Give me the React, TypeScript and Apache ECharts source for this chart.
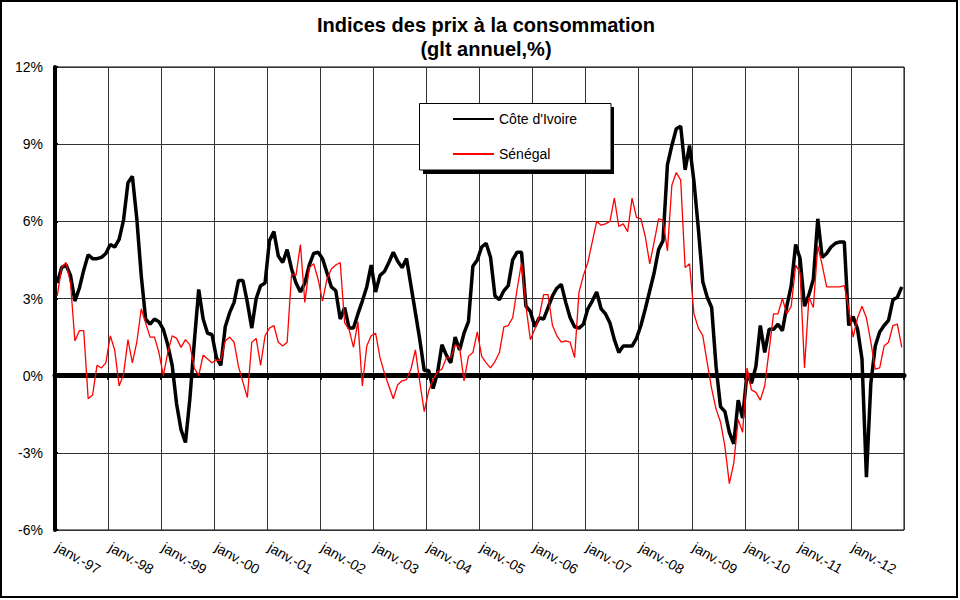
import React, { useEffect, useRef } from "react";
import * as echarts from "echarts";

const years = ["97", "98", "99", "00", "01", "02", "03", "04", "05", "06", "07", "08", "09", "10", "11", "12"];
const months = ["janv.", "févr.", "mars", "avr.", "mai", "juin", "juil.", "août", "sept.", "oct.", "nov.", "déc."];

const coteDIvoire = [
  3.6, 4.2, 4.3, 3.9, 2.9, 3.4, 4.1, 4.7, 4.55, 4.55, 4.6, 4.75,
  5.1, 5.0, 5.3, 6.05, 7.5, 7.75, 6.1, 3.9, 2.2, 2.0, 2.2, 2.1,
  1.8, 1.2, 0.4, -1.1, -2.1, -2.6, -0.9, 1.3, 3.35, 2.2, 1.65, 1.6,
  0.7, 0.4, 1.9, 2.45, 2.85, 3.7, 3.7, 2.85, 1.85, 3.0, 3.5, 3.6,
  5.25, 5.6, 4.65, 4.4, 4.9, 4.15, 3.6, 3.25, 3.6, 4.3, 4.75, 4.8,
  4.55, 4.0, 3.45, 3.3, 2.2, 2.65, 1.85, 1.85, 2.4, 2.9, 3.45, 4.3,
  3.25, 3.9, 4.05, 4.4, 4.8, 4.45, 4.2, 4.55, 3.5, 2.45, 1.4, 0.2,
  0.2, -0.5, 0.1, 1.2, 0.8, 0.5, 1.5, 1.0, 1.65, 2.1, 4.25, 4.5,
  5.0, 5.15, 4.6, 3.1, 2.95, 3.3, 3.5, 4.5, 4.8, 4.8, 2.7, 2.5,
  1.9, 2.25, 2.2, 2.65, 3.1, 3.4, 3.55, 2.85, 2.25, 1.9, 1.85, 2.0,
  2.6, 2.9, 3.25, 2.6, 2.4, 2.05, 1.4, 0.9, 1.15, 1.15, 1.15, 1.45,
  1.95, 2.6, 3.3, 4.0, 4.9, 5.25, 8.2, 8.95, 9.6, 9.7, 8.0, 8.95,
  7.55, 5.7, 3.65, 3.05, 2.65, 0.35, -1.2, -1.4, -2.2, -2.65, -0.95, -1.65,
  0.1, -0.3, 0.35, 1.95, 0.9, 1.8, 1.8, 2.0, 1.75, 2.7, 3.5, 5.1,
  4.55, 2.7, 3.15, 3.75, 6.1, 4.6, 4.75, 5.0, 5.15, 5.2, 5.2, 1.95,
  2.3, 1.8, 0.65, -3.95, -0.3, 1.15, 1.7, 1.95, 2.15, 2.95, 3.05, 3.45,
];

const senegal = [
  3.1, 4.2, 4.4, 3.6, 1.35, 1.75, 1.75, -0.9, -0.75, 0.4, 0.3, 0.5,
  1.55, 1.0, -0.4, 0.05, 1.4, 0.5, 1.3, 2.6, 2.05, 1.5, 1.5, 0.9,
  0.0, 0.9, 1.55, 1.45, 1.1, 1.4, 1.2, 0.3, 0.0, 0.8, 0.65, 0.5,
  0.6, 0.6, 1.35, 1.5, 1.3, 0.35, -0.25, -0.85, 1.3, 1.45, 0.4, 1.55,
  1.85, 1.95, 1.3, 1.15, 1.3, 3.95, 3.9, 5.1, 2.85, 4.2, 4.35, 3.75,
  2.9, 3.75, 4.15, 4.3, 4.4, 2.05, 1.8, 1.1, 2.1, -0.4, 1.15, 1.55,
  1.65, 0.7, 0.1, -0.4, -0.9, -0.35, -0.2, -0.15, 0.25, 1.0, -0.25, -1.4,
  -0.6, -0.15, 0.15, 0.25, 0.7, 0.7, 1.2, 1.1, -0.2, 0.75, 0.9, 1.7,
  0.75, 0.5, 0.3, 0.55, 0.9, 1.9, 1.95, 2.25, 3.35, 4.4, 2.7, 1.4,
  1.8, 2.3, 3.15, 3.15, 1.95, 1.55, 1.3, 1.35, 1.3, 0.7, 3.25, 3.9,
  4.4, 5.2, 6.0, 5.85, 5.9, 6.0, 6.9, 5.8, 5.9, 5.6, 6.9, 6.15,
  6.1, 5.4, 4.35, 5.2, 6.1, 6.05, 4.85, 7.4, 7.9, 7.6, 4.2, 4.35,
  2.4, 1.85, 1.55, 0.5, -0.5, -1.3, -1.8, -2.75, -4.2, -3.4, -1.7, -2.2,
  0.3, -0.55, -0.65, -0.95, -0.4, 1.0, 2.4, 2.4, 3.0, 2.4, 2.7, 4.3,
  4.0, 0.3, 3.05, 2.65, 5.05, 4.3, 3.45, 3.45, 3.45, 3.45, 3.5, 2.6,
  1.5, 2.25, 2.7, 2.25, 1.3, 0.25, 0.3, 1.15, 1.3, 1.95, 2.0, 1.1,
];

const seriesNames = ["Côte d'Ivoire", "Sénégal"];
const titleLines = ["Indices des prix à la consommation", "(glt annuel,%)"];
const yMin = -6;
const yMax = 12;
const yStep = 3;

const categories = years.flatMap((y) => months.map((m) => `${m}-${y}`));

const FONT = "'Liberation Sans', Arial, sans-serif";

export default function App() {
  const ref = useRef<HTMLDivElement>(null);

  useEffect(() => {
    if (!ref.current) return;
    const chart = echarts.init(ref.current, null, { renderer: "svg" });
    chart.setOption({
      animation: false,
      backgroundColor: "#fff",
      textStyle: { fontFamily: FONT },
      grid: {
        left: 55,
        right: 56,
        top: 67,
        bottom: 70,
        show: true,
        borderColor: "#000",
        borderWidth: 1,
        backgroundColor: "transparent",
      },
      legend: {
        data: seriesNames,
        orient: "vertical",
        left: 452,
        top: 112,
        padding: 0,
        itemWidth: 41,
        itemHeight: 14,
        itemGap: 21,
        z: 6,
        itemStyle: { opacity: 0 },
        textStyle: { fontSize: 14, color: "#000", fontFamily: FONT },
      },
      graphic: [
        {
          type: "rect",
          z: 4,
          shape: { x: 423, y: 107, width: 191, height: 67 },
          style: { fill: "#000" },
        },
        {
          type: "rect",
          z: 5,
          shape: { x: 419.5, y: 103.5, width: 191.5, height: 66.5 },
          style: { fill: "#fff", stroke: "#000", lineWidth: 1 },
        },
        {
          type: "text",
          z: 5,
          x: 486,
          y: 25,
          style: {
            text: titleLines[0],
            font: `bold 20px ${FONT}`,
            fill: "#000",
            textAlign: "center",
            textVerticalAlign: "middle",
            align: "center",
            verticalAlign: "middle",
          },
        },
        {
          type: "text",
          z: 5,
          x: 486,
          y: 49,
          style: {
            text: titleLines[1],
            font: `bold 20px ${FONT}`,
            fill: "#000",
            textAlign: "center",
            textVerticalAlign: "middle",
            align: "center",
            verticalAlign: "middle",
          },
        },
        {
          type: "rect",
          z: 10,
          shape: { x: 1, y: 1, width: 956, height: 596 },
          style: { fill: "none", stroke: "#000", lineWidth: 2 },
        },
      ],
      xAxis: [
        {
          type: "category",
          data: categories,
          boundaryGap: true,
          position: "bottom",
          axisLine: { show: true, onZero: true, lineStyle: { color: "#000", width: 5 } },
          axisTick: { show: true, interval: 11, length: 4, lineStyle: { color: "#000", width: 2 } },
          axisLabel: { show: false },
          splitLine: { show: true, interval: 11, lineStyle: { color: "#333", width: 1 } },
        },
        {
          type: "category",
          data: categories,
          boundaryGap: true,
          position: "bottom",
          axisLine: { show: false, onZero: false },
          axisTick: { show: false },
          axisLabel: {
            interval: 11,
            rotate: -30,
            fontSize: 14,
            color: "#000",
            margin: 16,
            fontFamily: FONT,
          },
          splitLine: { show: false },
        },
      ],
      yAxis: {
        type: "value",
        min: yMin,
        max: yMax,
        interval: yStep,
        axisLine: { show: true, lineStyle: { color: "#000", width: 4 } },
        axisTick: { show: true, inside: true, length: 3, lineStyle: { color: "#000", width: 2 } },
        axisLabel: { formatter: "{value}%", fontSize: 14, color: "#000", margin: 12, fontFamily: FONT },
        splitLine: { show: true, lineStyle: { color: "#333", width: 1 } },
      },
      series: [
        {
          name: seriesNames[0],
          type: "line",
          data: coteDIvoire,
          symbol: "none",
          lineStyle: { color: "#000", width: 3.5 },
          itemStyle: { color: "#000" },
          z: 2,
        },
        {
          name: seriesNames[1],
          type: "line",
          data: senegal,
          symbol: "none",
          lineStyle: { color: "#ff0000", width: 1.3 },
          itemStyle: { color: "#ff0000" },
          z: 3,
        },
      ],
    });
    return () => chart.dispose();
  }, []);

  return (
    <div
      ref={ref}
      style={{ position: "fixed", left: 0, top: 0, width: 960, height: 600, background: "#fff" }}
    />
  );
}
